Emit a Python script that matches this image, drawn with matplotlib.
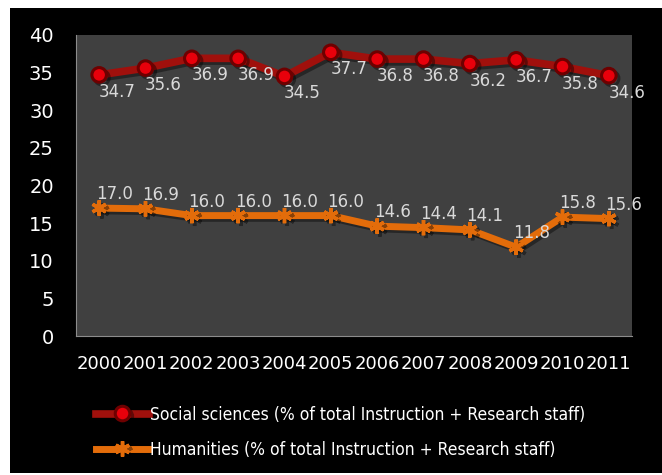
import numpy as np
import matplotlib
matplotlib.use("Agg")
import matplotlib.pyplot as plt
import matplotlib.patheffects as pe
from matplotlib.patches import Rectangle

years = ["2000", "2001", "2002", "2003", "2004", "2005",
         "2006", "2007", "2008", "2009", "2010", "2011"]
social = [34.7, 35.6, 36.9, 36.9, 34.5, 37.7, 36.8, 36.8, 36.2, 36.7, 35.8, 34.6]
humanities = [17.0, 16.9, 16.0, 16.0, 16.0, 16.0, 14.6, 14.4, 14.1, 11.8, 15.8, 15.6]
social_label = "Social sciences (% of total Instruction + Research staff)"
hum_label = "Humanities (% of total Instruction + Research staff)"

fig = plt.figure(figsize=(6.62, 4.75), dpi=100, facecolor="white")
# black chart area inside a thin white border
fig.patches.append(Rectangle((10 / 662, 2 / 475), 652 / 662, 465 / 475,
                             transform=fig.transFigure, facecolor="black",
                             edgecolor="none", zorder=-10))

ax = fig.add_axes([76 / 662, 1 - 336 / 475, 556 / 662, 301 / 475])
ax.set_facecolor("#404040")

x = np.arange(len(years))
shadow = [pe.SimpleLineShadow(offset=(2, -2), alpha=0.4), pe.Normal()]

ax.plot(x, social, color="#A0100C", lw=5.5, marker="o", ms=10.5,
        mfc="#E8000B", mec="#6E0000", mew=2.2, label=social_label,
        path_effects=shadow, zorder=3)
ax.plot(x, humanities, color="#E36C0A", lw=5, marker=(6, 2, 0), ms=11,
        mec="#E36C0A", mew=2.5, label=hum_label,
        path_effects=shadow, zorder=3)

for i in range(len(x)):
    ax.annotate("%.1f" % social[i], (x[i], social[i]), textcoords="offset pixels",
                xytext=(18, -17), ha="center", va="center",
                color="#D9D9D9", fontsize=12)
    ax.annotate("%.1f" % humanities[i], (x[i], humanities[i]), textcoords="offset pixels",
                xytext=(15, 14), ha="center", va="center",
                color="#D9D9D9", fontsize=12)

ax.set_xlim(-0.5, len(years) - 0.5)
ax.set_ylim(0, 40)
ax.set_yticks(np.arange(0, 41, 5))
ax.set_xticks(x)
ax.set_xticklabels(years)
ax.tick_params(axis="y", colors="white", labelsize=14, length=0, pad=16)
ax.tick_params(axis="x", colors="white", labelsize=13, length=0, pad=14)
for s in ["top", "right"]:
    ax.spines[s].set_visible(False)
ax.spines["left"].set_color("#8C8C8C")
ax.spines["bottom"].set_color("#8C8C8C")

leg = fig.legend(loc="upper left", bbox_to_anchor=(80 / 662, 1 - 390 / 475),
                 frameon=False, labelcolor="white",
                 prop={"family": ["DejaVu Sans"], "stretch": "condensed", "size": 12.5},
                 handlelength=3.1, handletextpad=0.05, labelspacing=1.0)

fig.savefig("out.png", dpi=100, facecolor=fig.get_facecolor())
